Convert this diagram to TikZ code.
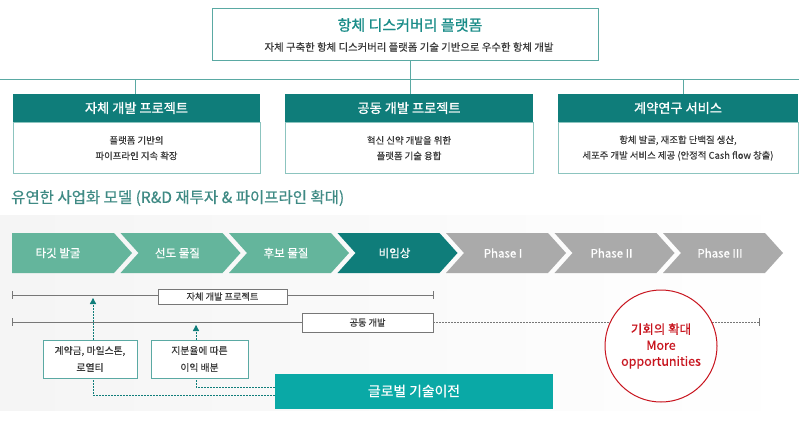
\documentclass[tikz,border=0pt]{standalone}
\usepackage{fontspec}
\setmainfont{Noto Sans CJK KR}
\newfontfamily\medf[FakeBold=0.5]{Noto Sans CJK KR}
\newfontfamily\semf[FakeBold=1.0]{Noto Sans CJK KR}
\usetikzlibrary{arrows.meta}
\definecolor{tealdark}{HTML}{0F7D7A}
\definecolor{tealtitle}{HTML}{1A8C88}
\definecolor{tealline}{HTML}{5AA9A3}
\definecolor{boxline}{HTML}{8CC4BF}
\definecolor{chevlight}{HTML}{64B59C}
\definecolor{chevgray}{HTML}{AAAAAA}
\definecolor{globalc}{HTML}{0AA9A6}
\definecolor{redc}{HTML}{C8141E}
\definecolor{textc}{HTML}{3A3A3A}
\definecolor{headc}{HTML}{3F8A84}
\definecolor{tlgray}{HTML}{777777}
\begin{document}
\begin{tikzpicture}[x=1pt,y=-1pt,
  hdr/.style={fill=tealdark, text=white, minimum height=28pt, inner sep=0pt,
    font=\semf\fontsize{13.2}{15}\selectfont},
  bodyb/.style={draw=boxline, line width=0.7pt, minimum height=51pt, inner sep=0pt,
    align=center, text=textc, font=\medf\fontsize{9.4}{15.5}\selectfont},
  conn/.style={draw=tealline, line width=0.7pt},
  chevtxt/.style={text=white, inner sep=0pt, font=\medf\fontsize{11.5}{13}\selectfont},
  tline/.style={draw=tlgray, line width=0.7pt},
  tlabel/.style={draw=tlgray, fill=white, line width=0.6pt, inner sep=0pt,
    text=textc, font=\medf\fontsize{9.2}{11}\selectfont},
  notebox/.style={draw=tealline, fill=white, line width=0.7pt, minimum width=94pt,
    minimum height=38pt, inner sep=0pt, align=center, text=textc,
    font=\medf\fontsize{9.8}{17}\selectfont},
  dasharrow/.style={draw=tealdark, line width=0.6pt, dash pattern=on 1.5pt off 1.5pt}
]
\useasboundingbox (0,0) rectangle (799,421);
% faint background panel
\shade[left color=black!4, right color=white] (0,215) rectangle (799,410);

% ---------- top box ----------
\node[draw=tealline, line width=0.8pt, minimum width=386pt, minimum height=52pt, inner sep=0pt] (top) at (405,34) {};
\node[text=tealtitle, inner sep=0pt, font=\semf\fontsize{15}{18}\selectfont] (toptitle) at (410,25) {항체 디스커버리 플랫폼};
\node[text=textc, inner sep=0pt, font=\medf\fontsize{10.4}{12}\selectfont] (topsub) at (409,47) {자체 구축한 항체 디스커버리 플랫폼 기술 기반으로 우수한 항체 개발};

% ---------- three boxes ----------
\node[hdr, minimum width=247pt] (h1) at (136.5,108) {자체 개발 프로젝트};
\node[bodyb, minimum width=247pt, anchor=north] (b1) at (h1.south) {플랫폼 기반의\\파이프라인 지속 확장};
\node[hdr, minimum width=248pt] (h2) at (409,108) {공동 개발 프로젝트};
\node[bodyb, minimum width=248pt, anchor=north] (b2) at (h2.south) {혁신 신약 개발을 위한\\플랫폼 기술 융합};
\node[hdr, minimum width=240pt] (h3) at (678,108) {계약연구 서비스};
\node[bodyb, minimum width=240pt, anchor=north] (b3) at (h3.south) {항체 발굴, 재조합 단백질 생산,\\세포주 개발 서비스 제공 (안정적 Cash flow 창출)};

% ---------- connectors ----------
\coordinate (hl) at (0,79);
\coordinate (hr) at (799,79);
\coordinate (hub) at (410,79);
\coordinate (c1) at (135,79);
\coordinate (c3) at (683,79);
\draw[conn] (hl) -- (hr);
\draw[conn] (top.south -| hub) -- (hub);
\draw[conn] (c1) -- (h1.north -| c1);
\draw[conn] (hub) -- (h2.north -| hub);
\draw[conn] (c3) -- (h3.north -| c3);

% ---------- section heading ----------
\node[anchor=west, text=headc, inner sep=0pt, font=\medf\fontsize{15.5}{18}\selectfont] (sec) at (11,198) {유연한 사업화 모델 (R\&D 재투자 \& 파이프라인 확대)};

% ---------- chevrons ----------
\fill[chevlight] (12,233) -- (114,233) -- (132,253) -- (114,273) -- (12,273) -- cycle;
\node[chevtxt] (p1) at (58,253) {타깃 발굴};
\foreach \i/\c/\t/\n in {1/chevlight/선도 물질/p2, 2/chevlight/후보 물질/p3, 3/tealdark/비임상/p4,
  4/chevgray/Phase I/p5, 5/chevgray/Phase II/p6, 6/chevgray/Phase III/p7}{
  \pgfmathsetmacro{\xo}{12+108.5*\i}
  \fill[\c] (\xo,233) -- (\xo+102,233) -- (\xo+120,253) -- (\xo+102,273) -- (\xo,273) -- (\xo+18,253) -- cycle;
  \node[chevtxt] (\n) at (\xo+57,253) {\t};
}

% ---------- timelines ----------
\coordinate (t1a) at (12,295);
\coordinate (t1b) at (433,295);
\coordinate (t2a) at (12,322);
\coordinate (t2b) at (433,322);
\coordinate (t2c) at (759,322);
\draw[tline] (t1a) -- (t1b);
\draw[tline] ([yshift=4pt]t1a) -- ([yshift=-4pt]t1a);
\draw[tline] ([yshift=4pt]t1b) -- ([yshift=-4pt]t1b);
\node[tlabel, minimum width=129pt, minimum height=15pt] (lab1) at (222.5,296.5) {자체 개발 프로젝트};

\draw[tline] (t2a) -- (t2b);
\draw[tline] ([yshift=4pt]t2a) -- ([yshift=-4pt]t2a);
\draw[tline, dash pattern=on 1.5pt off 1.5pt, line width=0.6pt] (t2b) -- (t2c);
\draw[tline] ([yshift=4pt]t2c) -- ([yshift=-4pt]t2c);
\node[tlabel, minimum width=131pt, minimum height=19pt] (lab2) at (367.5,322.5) {공동 개발};

% ---------- global box and arrows ----------
\node[fill=globalc, text=white, minimum width=278pt, minimum height=35pt, inner sep=0pt,
  font=\medf\fontsize{13.8}{16}\selectfont] (glob) at (414,391) {글로벌 기술이전};

\coordinate (a1top) at (93,298);
\coordinate (a1bot) at (93,395);
\coordinate (a2top) at (196,325);
\coordinate (a2bot) at (196,387);
\draw[dasharrow] (glob.west |- a1bot) -- (a1bot) -- (a1top);
\draw[dasharrow] (glob.west |- a2bot) -- (a2bot) -- (a2top);
\fill[tealdark] (a1top) -- ++(3.2,6) -- ++(-6.4,0) -- cycle;
\fill[tealdark] (a2top) -- ++(3.2,6) -- ++(-6.4,0) -- cycle;

\node[notebox] (n1) at (90,359) {계약금, 마일스톤,\\로열티};
\node[notebox, minimum width=97pt] (n2) at (199.5,359) {지분율에 따른\\이익 배분};

% ---------- circle ----------
\node[circle, draw=redc, fill=white, line width=1pt, minimum size=112pt, inner sep=0pt,
  align=center, text=redc, font=\medf\fontsize{12.5}{16}\selectfont] (circ) at (661,346) {기회의 확대\\More\\opportunities};
\end{tikzpicture}
\end{document}
